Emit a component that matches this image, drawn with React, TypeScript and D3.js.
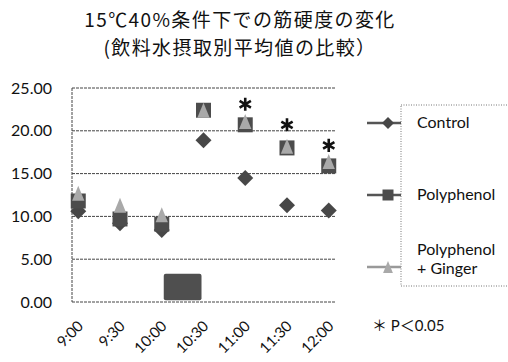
import React from "react";
import * as d3 from "d3";

const times = ["9:00", "9:30", "10:00", "10:30", "11:00", "11:30", "12:00"];
const control = [10.6, 9.2, 8.4, 18.9, 14.5, 11.3, 10.7];
const polyphenol = [11.8, 9.7, 9.1, 22.4, 20.7, 18.0, 15.9];
const ginger = [12.7, 11.3, 10.2, 22.4, 21.1, 18.2, 16.4];
const yTicks = [0, 5, 10, 15, 20, 25];
const sigTimes = ["11:00", "11:30", "12:00"];
const sigValues = [23.1, 20.7, 18.3];
const blockSpan = ["10:00", "10:30"];
const blockRange = [0.2, 3.3];
const titleLines = ["15℃40%条件下での筋硬度の変化", "(飲料水摂取別平均値の比較）"];
const noteText = "＊ P＜0.05";

const W = 508;
const H = 362;
const plot = { left: 72, right: 335, top: 88, bottom: 302 };
const latin = "Lato, 'Noto Sans CJK JP', sans-serif";
const cjk = "'Noto Sans CJK JP', sans-serif";

const diamondType = {
  draw(ctx: any, size: number) {
    const r = Math.sqrt(size) / 2;
    ctx.moveTo(0, -r);
    ctx.lineTo(r, 0);
    ctx.lineTo(0, r);
    ctx.lineTo(-r, 0);
    ctx.closePath();
  },
};
const triType = {
  draw(ctx: any, size: number) {
    const h = Math.sqrt(size);
    const w = h * 0.82;
    ctx.moveTo(0, -h / 2);
    ctx.lineTo(w / 2, h / 2);
    ctx.lineTo(-w / 2, h / 2);
    ctx.closePath();
  },
};

export default function App() {
  const x = d3.scalePoint<string>().domain(times).range([plot.left, plot.right]).padding(0.15);
  const y = d3.scaleLinear().domain([0, 25]).range([plot.bottom, plot.top]);

  const diamond = d3.symbol().type(diamondType as any).size(16 * 16)();
  const square = d3.symbol().type(d3.symbolSquare).size(15 * 15)();
  const tri = d3.symbol().type(triType as any).size(15 * 15)();
  const diamondS = d3.symbol().type(diamondType as any).size(12 * 12)();
  const squareS = d3.symbol().type(d3.symbolSquare).size(11 * 11)();
  const triS = d3.symbol().type(triType as any).size(12 * 12)();
  const aster = d3.symbol().type(d3.symbolAsterisk).size(120)();

  const series = [
    { name: "Control", values: control, path: diamond, small: diamondS, fill: "#474747", ly: 123 },
    { name: "Polyphenol", values: polyphenol, path: square, small: squareS, fill: "#4c4c4c", ly: 195 },
    { name: "Ginger", values: ginger, path: tri, small: triS, fill: "#a9a9a9", ly: 267 },
  ];

  return (
    <div style={{ position: "absolute", left: 0, top: 0 }}>
      <svg width={W} height={H} style={{ display: "block", background: "#fff" }}>
        {titleLines.map((t, i) => (
          <text
            key={i}
            x={240}
            y={27 + i * 28}
            textAnchor="middle"
            fontFamily={cjk}
            fontSize={19}
            letterSpacing={1.4}
            fill="#111"
          >
            {t}
          </text>
        ))}
        {yTicks.map((t) => (
          <g key={t}>
            <line x1={plot.left} x2={plot.right} y1={y(t)} y2={y(t)} stroke="#444" strokeWidth={1} strokeDasharray="3,1" />
            <text x={52} y={y(t)} dy="0.35em" textAnchor="end" fontFamily={latin} fontSize={16} fill="#111">
              {d3.format(".2f")(t)}
            </text>
          </g>
        ))}
        <line x1={plot.left} x2={plot.left} y1={plot.top} y2={plot.bottom} stroke="#444" strokeDasharray="3,1" />
        {times.map((t) => (
          <text
            key={t}
            transform={`translate(${(x(t) as number) + 6},${327}) rotate(-45)`}
            textAnchor="end"
            fontFamily={latin}
            fontSize={15}
            fill="#111"
          >
            {t}
          </text>
        ))}
        <rect
          x={(x(blockSpan[0]) as number) + 2}
          width={(x(blockSpan[1]) as number) - (x(blockSpan[0]) as number) - 4}
          y={y(blockRange[1])}
          height={y(blockRange[0]) - y(blockRange[1])}
          rx={2}
          fill="#4f4f4f"
        />
        {series.map((s) =>
          s.values.map((v, i) => (
            <path key={s.name + i} d={s.path as string} transform={`translate(${x(times[i])},${y(v)})`} fill={s.fill} />
          ))
        )}
        {sigTimes.map((t, i) => (
          <path
            key={t}
            d={aster as string}
            transform={`translate(${x(t)},${y(sigValues[i])})`}
            fill="none"
            stroke="#111"
            strokeWidth={2.6}
          />
        ))}
        <rect x={401} y={105} width={120} height={181} fill="none" stroke="#777" strokeDasharray="1,1.5" />
        {series.map((s) => (
          <g key={s.name}>
            <line x1={367} x2={401} y1={s.ly} y2={s.ly} stroke={s.name === "Ginger" ? "#999" : "#555"} strokeWidth={2.5} />
            <path d={s.small as string} transform={`translate(388,${s.ly})`} fill={s.fill} />
          </g>
        ))}
        <text x={417} y={128} fontFamily={latin} fontSize={16} fill="#111">Control</text>
        <text x={417} y={200} fontFamily={latin} fontSize={16} fill="#111">Polyphenol</text>
        <text x={417} y={255} fontFamily={latin} fontSize={16} fill="#111">Polyphenol</text>
        <text x={417} y={274} fontFamily={latin} fontSize={16} fill="#111">+ Ginger</text>
        <text x={372} y={331} fontFamily={latin} fontSize={15} fill="#111">{noteText}</text>
      </svg>
    </div>
  );
}
